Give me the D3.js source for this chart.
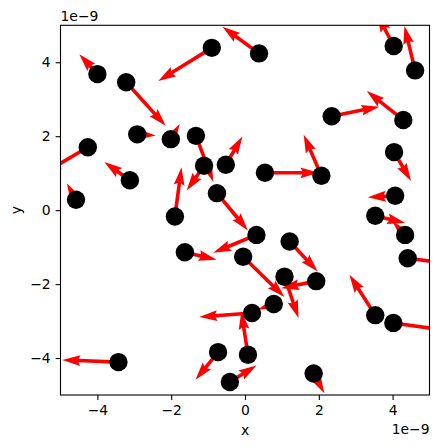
<!DOCTYPE html>
<meta charset="utf-8">
<title>Quiver</title>
<style>
    body {
        margin: 0;
        background: #fff;
    }

    text {
        font-family: "DejaVu Sans", sans-serif;
        font-size: 13.9px;
        fill: #000;
    }

    .arrow {
        fill: red;
        stroke: none;
    }

    .dot {
        fill: #000;
    }
</style>

<body>
    <div id="my_chart"></div>
    <script src="https://d3js.org/d3.v7.min.js"></script>
    <script>

        // point positions (units of 1e-9)
        var xs = [-0.90, 0.38, -4.00, -3.22, 4.03, 4.61, 2.35, 4.29, -2.92, -2.01,
            -1.33, -4.26, 4.04, -1.11, -0.52, 0.54, 2.07, -3.12, -0.76, -4.58,
            4.07, -1.90, 3.53, 0.31, 4.34, 1.21, -1.63, -0.05, 4.41, 1.07,
            1.93, 0.78, 0.19, 3.53, 4.02, -0.73, 0.08, -3.43, 1.86, -0.41];
        var ys = [4.39, 4.24, 3.68, 3.46, 4.44, 3.78, 2.54, 2.44, 2.05, 1.92,
            2.01, 1.70, 1.57, 1.20, 1.23, 1.01, 0.93, 0.81, 0.46, 0.28,
            0.39, -0.17, -0.15, -0.67, -0.67, -0.85, -1.14, -1.26, -1.30, -1.80,
            -1.92, -2.54, -2.78, -2.84, -3.05, -3.84, -3.91, -4.11, -4.42, -4.65];

        // arrow components (same units)
        var us = [-1.45, -0.99, -0.49, 1.07, -0.45, -0.29, 1.29, -0.99, 0.50, 0.24,
            0.47, -1.20, 0.46, -0.47, 0.45, 1.45, -0.48, -0.69, 0.84, -0.25,
            -0.74, 0.18, 0.81, -1.17, -0.34, 0.76, 0.86, 1.12, 1.25, 0.38,
            -0.95, -0.43, -1.43, -0.70, 1.60, -0.61, -0.18, -1.52, 0.29, 0.72];
        var vs = [-0.90, 0.72, 0.54, -1.18, 0.86, 1.20, 0.26, 0.78, -0.03, 0.41,
            -1.24, -0.70, -0.78, -0.67, 0.76, 0.00, 1.11, 0.49, -1.01, 0.45,
            -0.04, 1.33, -0.20, -0.48, 0.36, -0.81, -0.20, -1.09, -0.16, -1.12,
            -0.19, -0.15, -0.11, 1.09, -0.23, -0.75, 1.17, 0.06, -0.53, 0.45];

        var xTicks = [-4, -2, 0, 2, 4];
        var yTicks = [-4, -2, 0, 2, 4];

        // set the dimensions and margins of the graph
        var margin = { top: 25.3, left: 60.5 },
            width = 369,
            height = 369.7;

        var x = d3.scaleLinear().domain([-5, 5]).range([0, width]);
        var y = d3.scaleLinear().domain([-5, 5]).range([height, 0]);

        var svg = d3.select("#my_chart")
            .append("svg")
            .attr("width", 439)
            .attr("height", 448);

        var g = svg.append("g")
            .attr("transform", "translate(" + margin.left + "," + margin.top + ")");

        g.append("clipPath")
            .attr("id", "clip")
            .append("rect")
            .attr("width", width)
            .attr("height", height);

        // matplotlib-style arrow polygon from tail to tip
        var w = 3.6;
        function arrowPath(x0, y0, x1, y1) {
            var dx = x1 - x0, dy = y1 - y0;
            var L = Math.sqrt(dx * dx + dy * dy);
            var a, h;
            if (L >= 5 * w) {
                a = [0, L - 4.5 * w, L - 5 * w, L];
                h = [w / 2, w / 2, 1.5 * w, 0];
            } else {
                var s = L / (5 * w);
                a = [0, 0.5 * w * s, 0, 5 * w * s];
                h = [w / 2 * s, w / 2 * s, 1.5 * w * s, 0];
            }
            var ux = dx / L, uy = dy / L, nx = -uy, ny = ux;
            var pts = [];
            [0, 1, 2, 3].forEach(function (i) { pts.push([a[i], h[i]]); });
            [2, 1, 0].forEach(function (i) { pts.push([a[i], -h[i]]); });
            return "M" + pts.map(function (p) {
                return (x0 + ux * p[0] + nx * p[1]).toFixed(2) + "," +
                    (y0 + uy * p[0] + ny * p[1]).toFixed(2);
            }).join("L") + "Z";
        }

        var idx = d3.range(xs.length);

        // arrows
        g.append("g")
            .attr("clip-path", "url(#clip)")
            .selectAll("path")
            .data(idx)
            .enter()
            .append("path")
            .attr("class", "arrow")
            .attr("d", function (i) {
                return arrowPath(x(xs[i]), y(ys[i]), x(xs[i] + us[i]), y(ys[i] + vs[i]));
            });

        // points
        g.append("g")
            .attr("clip-path", "url(#clip)")
            .selectAll("circle")
            .data(idx)
            .enter()
            .append("circle")
            .attr("class", "dot")
            .attr("cx", function (i) { return x(xs[i]); })
            .attr("cy", function (i) { return y(ys[i]); })
            .attr("r", 9.2);

        // axes
        var xAxis = g.append("g")
            .attr("transform", "translate(0," + height + ")")
            .call(d3.axisBottom(x).tickValues(xTicks).tickSize(4.9).tickPadding(4.9).tickSizeOuter(0));
        var yAxis = g.append("g")
            .call(d3.axisLeft(y).tickValues(yTicks).tickSize(4.9).tickPadding(4.9).tickSizeOuter(0));
        [xAxis, yAxis].forEach(function (ax) {
            ax.select(".domain").remove();
            ax.selectAll("line").attr("stroke", "#000").attr("stroke-width", 1.1);
            ax.selectAll("text").style("font-size", "13.9px").attr("font-family", null);
        });

        // frame
        g.append("rect")
            .attr("width", width)
            .attr("height", height)
            .attr("fill", "none")
            .attr("stroke", "#000")
            .attr("stroke-width", 1.1);

        // labels and offset texts
        g.append("text")
            .attr("x", width / 2)
            .attr("y", height + 40)
            .attr("text-anchor", "middle")
            .text("x");
        g.append("text")
            .attr("transform", "translate(-40," + (height / 2) + ") rotate(-90)")
            .attr("text-anchor", "middle")
            .text("y");
        g.append("text")
            .attr("x", 0)
            .attr("y", -4)
            .text("1e\u22129");
        g.append("text")
            .attr("x", width)
            .attr("y", height + 39)
            .attr("text-anchor", "end")
            .text("1e\u22129");

    </script>
</body>
